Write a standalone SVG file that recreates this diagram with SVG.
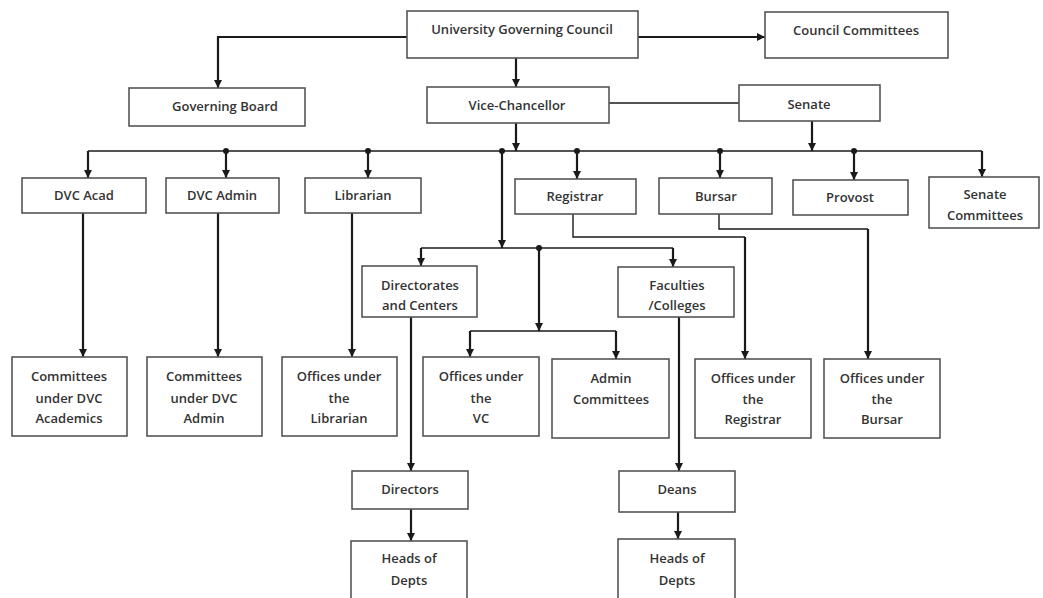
<svg xmlns="http://www.w3.org/2000/svg" width="1043" height="598" viewBox="0 0 1043 598">
<style>
.box{fill:#fff;stroke:#555;stroke-width:1.6}
.t{font-family:"Open Sans","Noto Sans",sans-serif;font-size:13px;fill:#333;text-anchor:middle;font-weight:600}
.c{fill:none;stroke:#1a1a1a;stroke-width:2.2}
.thin{fill:none;stroke:#1a1a1a;stroke-width:1.4}
.dot{fill:#1a1a1a}
</style>
<defs>
<marker id="ah" markerUnits="userSpaceOnUse" markerWidth="8" markerHeight="8" refX="8" refY="4" orient="auto" viewBox="0 0 8 8">
<path d="M0,0 L8,4 L0,8 z" fill="#1a1a1a"/>
</marker>
</defs>
<rect width="1043" height="598" fill="#fff"/>
<g id="connectors">
<path class="c" d="M407,37 H218 V88" marker-end="url(#ah)"/>
<path class="c" d="M638,37 H765" stroke-width="3" marker-end="url(#ah)"/>
<path class="c" d="M516,58 V87" marker-end="url(#ah)"/>
<path class="thin" d="M609,103 H739"/>
<path class="c" d="M516,123 V151" marker-end="url(#ah)"/>
<path class="c" d="M812,121 V151" marker-end="url(#ah)"/>
<path class="thin" d="M88,151 H982"/>
<path class="c" d="M88,151 V178" marker-end="url(#ah)"/>
<path class="c" d="M226,151 V178" marker-end="url(#ah)"/>
<path class="c" d="M368,151 V178" marker-end="url(#ah)"/>
<path class="c" d="M577,151 V179" marker-end="url(#ah)"/>
<path class="c" d="M720,151 V178" marker-end="url(#ah)"/>
<path class="c" d="M854,151 V180" marker-end="url(#ah)"/>
<path class="c" d="M982,151 V177" marker-end="url(#ah)"/>
<path class="c" d="M502,151 V248" marker-end="url(#ah)"/>
<path class="thin" d="M421,248 H673"/>
<path class="c" d="M421,248 V266" marker-end="url(#ah)"/>
<path class="c" d="M673,248 V267" marker-end="url(#ah)"/>
<path class="c" d="M539,248 V331" marker-end="url(#ah)"/>
<path class="thin" d="M470,331 H616"/>
<path class="c" d="M470,331 V357" marker-end="url(#ah)"/>
<path class="c" d="M616,331 V359" marker-end="url(#ah)"/>
<path class="c" d="M83,213 V357" marker-end="url(#ah)"/>
<path class="c" d="M218,213 V357" marker-end="url(#ah)"/>
<path class="c" d="M352,213 V357" marker-end="url(#ah)"/>
<path class="c" d="M411,317 V471" marker-end="url(#ah)"/>
<path class="c" d="M411,509 V541" marker-end="url(#ah)"/>
<path class="c" d="M679,317 V471" marker-end="url(#ah)"/>
<path class="c" d="M678,512 V539" marker-end="url(#ah)"/>
<path class="thin" d="M573,214 V237 H745"/>
<path class="c" d="M745,237 V359" marker-end="url(#ah)"/>
<path class="thin" d="M719,214 V229 H868"/>
<path class="c" d="M868,229 V359" marker-end="url(#ah)"/>
<circle class="dot" cx="226" cy="151" r="3"/>
<circle class="dot" cx="368" cy="151" r="3"/>
<circle class="dot" cx="502" cy="151" r="3"/>
<circle class="dot" cx="577" cy="151" r="3"/>
<circle class="dot" cx="720" cy="151" r="3"/>
<circle class="dot" cx="854" cy="151" r="3"/>
<circle class="dot" cx="539" cy="248" r="3"/>
</g>
<g id="ugc"><rect class="box" x="407" y="11" width="231" height="47"/><text class="t" x="522" y="34">University Governing Council</text></g>
<g id="council-committees"><rect class="box" x="765" y="12" width="183" height="46"/><text class="t" x="856" y="35">Council Committees</text></g>
<g id="governing-board"><rect class="box" x="129" y="88" width="176" height="38"/><text class="t" x="225" y="111">Governing Board</text></g>
<g id="vice-chancellor"><rect class="box" x="427" y="87" width="182" height="36"/><text class="t" x="517" y="110">Vice-Chancellor</text></g>
<g id="senate"><rect class="box" x="739" y="85" width="141" height="36"/><text class="t" x="809" y="109">Senate</text></g>
<g id="dvc-acad"><rect class="box" x="22" y="178" width="124" height="35"/><text class="t" x="84" y="200">DVC Acad</text></g>
<g id="dvc-admin"><rect class="box" x="166" y="178" width="113" height="35"/><text class="t" x="222" y="200">DVC Admin</text></g>
<g id="librarian"><rect class="box" x="305" y="178" width="116" height="35"/><text class="t" x="363" y="200">Librarian</text></g>
<g id="registrar"><rect class="box" x="515" y="179" width="121" height="35"/><text class="t" x="575" y="201">Registrar</text></g>
<g id="bursar"><rect class="box" x="659" y="178" width="113" height="36"/><text class="t" x="716" y="201">Bursar</text></g>
<g id="provost"><rect class="box" x="793" y="180" width="115" height="35"/><text class="t" x="850" y="202">Provost</text></g>
<g id="senate-committees"><rect class="box" x="929" y="177" width="110" height="51"/><text class="t" x="985" y="199">Senate</text><text class="t" x="985" y="220">Committees</text></g>
<g id="directorates"><rect class="box" x="362" y="266" width="115" height="51"/><text class="t" x="420" y="290">Directorates</text><text class="t" x="420" y="310">and Centers</text></g>
<g id="faculties"><rect class="box" x="618" y="267" width="116" height="50"/><text class="t" x="677" y="290">Faculties</text><text class="t" x="677" y="310">/Colleges</text></g>
<g id="committees-dvc-acad"><rect class="box" x="12" y="357" width="115" height="79"/><text class="t" x="69" y="381">Committees</text><text class="t" x="69" y="403">under DVC</text><text class="t" x="69" y="423">Academics</text></g>
<g id="committees-dvc-admin"><rect class="box" x="147" y="357" width="115" height="79"/><text class="t" x="204" y="381">Committees</text><text class="t" x="204" y="403">under DVC</text><text class="t" x="204" y="423">Admin</text></g>
<g id="offices-librarian"><rect class="box" x="282" y="357" width="115" height="79"/><text class="t" x="339" y="381">Offices under</text><text class="t" x="339" y="403">the</text><text class="t" x="339" y="423">Librarian</text></g>
<g id="offices-vc"><rect class="box" x="423" y="357" width="116" height="79"/><text class="t" x="481" y="381">Offices under</text><text class="t" x="481" y="403">the</text><text class="t" x="481" y="423">VC</text></g>
<g id="admin-committees"><rect class="box" x="552" y="359" width="117" height="79"/><text class="t" x="611" y="383">Admin</text><text class="t" x="611" y="404">Committees</text></g>
<g id="offices-registrar"><rect class="box" x="695" y="359" width="116" height="79"/><text class="t" x="753" y="383">Offices under</text><text class="t" x="753" y="404">the</text><text class="t" x="753" y="424">Registrar</text></g>
<g id="offices-bursar"><rect class="box" x="824" y="359" width="116" height="79"/><text class="t" x="882" y="383">Offices under</text><text class="t" x="882" y="404">the</text><text class="t" x="882" y="424">Bursar</text></g>
<g id="directors"><rect class="box" x="352" y="471" width="116" height="38"/><text class="t" x="410" y="494">Directors</text></g>
<g id="deans"><rect class="box" x="619" y="471" width="116" height="41"/><text class="t" x="677" y="494">Deans</text></g>
<g id="heads-left"><rect class="box" x="351" y="541" width="116" height="62"/><text class="t" x="409" y="563">Heads of</text><text class="t" x="409" y="585">Depts</text></g>
<g id="heads-right"><rect class="box" x="618" y="539" width="117" height="64"/><text class="t" x="677" y="563">Heads of</text><text class="t" x="677" y="585">Depts</text></g>
</svg>
